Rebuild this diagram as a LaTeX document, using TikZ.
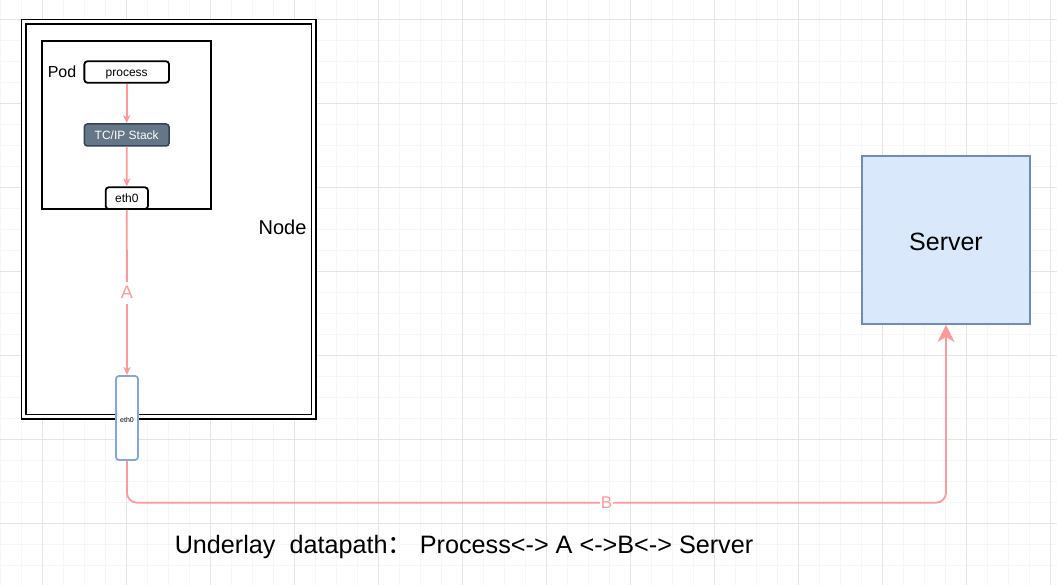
\documentclass[tikz,border=0pt]{standalone}
\usepackage{fontspec}
\setmainfont{Liberation Sans}
\newfontfamily\cjk{Noto Sans CJK SC}
\usetikzlibrary{arrows.meta}
\newcommand\pxsize[1]{\fontsize{#1}{#1}\selectfont}
\definecolor{gridminor}{HTML}{F6F6F6}
\definecolor{gridmajor}{HTML}{E4E4E4}
\definecolor{linkpink}{HTML}{FF9999}
\definecolor{stackfill}{HTML}{647687}
\definecolor{stackdraw}{HTML}{314354}
\definecolor{ethblue}{HTML}{7EA6E0}
\definecolor{srvfill}{HTML}{DAE8FC}
\definecolor{srvdraw}{HTML}{6C8EBF}
\tikzset{
  minorline/.style={gridminor, line width=0.8pt},
  majorline/.style={gridmajor, line width=0.9pt},
  centred/.style={text height=8.4pt, text depth=0pt},
  blackbox/.style={draw=black, line width=1.8pt, fill=white, inner sep=0pt},
  smallbox/.style={blackbox, centred, rounded corners=3pt, minimum width=84.7pt, minimum height=21.4pt, font=\pxsize{12}},
  stackbox/.style={draw=stackdraw, fill=stackfill, line width=1.5pt, centred, rounded corners=3pt, inner sep=0pt, minimum width=84.7pt, minimum height=22pt, text=white, font=\pxsize{12}},
  link/.style={linkpink, line width=1.8pt},
  smallhead/.style={-{Stealth[length=8pt,width=7pt,inset=2pt]}},
  bighead/.style={-{Stealth[length=17pt,width=17pt,inset=5pt]}},
  lbl/.style={inner sep=1pt},
}
\begin{document}
\begin{tikzpicture}[x=1pt,y=-1pt]
\useasboundingbox (0,0) rectangle (1057,585);
\fill[white] (0,0) rectangle (1057,585);
% grid
\foreach \gx in {0.3,21.3,...,1057} \draw[minorline] (\gx,0) -- (\gx,585);
\foreach \gy in {-1.7,19.3,...,585} \draw[minorline] (0,\gy) -- (1057,\gy);
\foreach \gx in {42.3,126.3,...,1057} \draw[majorline] (\gx,0) -- (\gx,585);
\foreach \gy in {19.3,103.3,...,585} \draw[majorline] (0,\gy) -- (1057,\gy);

% Node (host) box
\node[draw=black, double=white, double distance=2.8pt, line width=1.7pt, fill=white,
      inner sep=0pt, minimum width=290pt, minimum height=395pt] (host) at (168.7,219.2) {};
\node[lbl, font=\pxsize{20}] (hostlbl) at (282.5,227) {Node};

% Pod box
\node[blackbox, minimum width=168.7pt, minimum height=168pt] (pod) at (126.7,124.7) {};
\node[lbl, font=\pxsize{16}] (podlbl) at (62,71.5) {Pod};

\node[smallbox] (proc) at (126.7,72) {process};
\node[stackbox] (stack) at (126.7,135) {TC/IP Stack};
\node[smallbox, minimum width=42.3pt, minimum height=21.7pt] (peth) at (126.8,198.2) {eth0};

\draw[link, smallhead] (proc.south) -- (stack.north);
\draw[link, smallhead] (stack.south) -- (peth.north);

% node eth0
\node[draw=ethblue, fill=white, line width=1.8pt, rounded corners=3pt, inner sep=0pt,
      text height=9pt, text depth=0pt,
      minimum width=22pt, minimum height=84pt, font=\pxsize{7}] (neth) at (127,418) {eth0};

\draw[link, smallhead] (peth.south) -- (neth.north);
\node[lbl, fill=white, text=linkpink, font=\pxsize{18}, inner ysep=5pt] (alab) at (127,292.7) {A};

% Server
\node[draw=srvdraw, fill=srvfill, line width=1.8pt, inner sep=0pt, text height=22pt, text depth=0pt,
      minimum width=168.6pt, minimum height=168.3pt, font=\pxsize{25}] (srv) at (946,239.9) {Server};

\coordinate (bend) at (946,502.7);
\draw[link, bighead, rounded corners=10pt] (neth.south) |- (bend) -- (srv.south);
\node[lbl, fill=white, text=linkpink, font=\pxsize{17}] (blab) at (606.5,503) {B};

% caption
\node[lbl, font=\pxsize{25.2}] (cap) at (464,547) {Underlay\ \ datapath{\cjk ：}\ Process<-> A <->B<-> Server};
\end{tikzpicture}
\end{document}
